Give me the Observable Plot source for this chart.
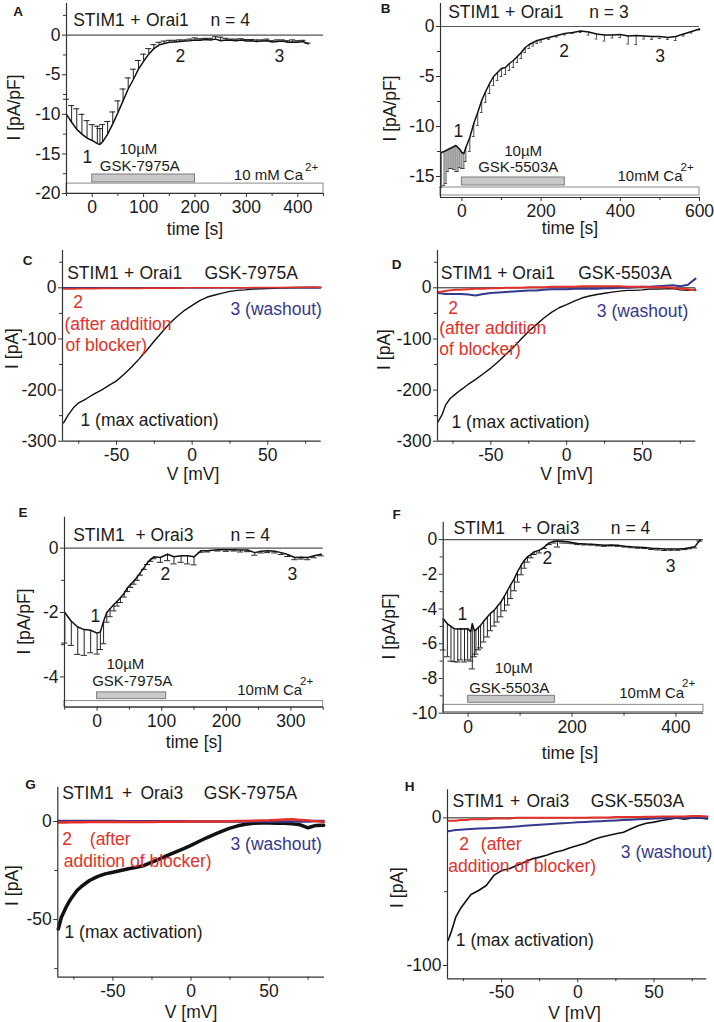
<!DOCTYPE html>
<html><head><meta charset="utf-8">
<script src="https://cdn.jsdelivr.net/npm/d3@7"></script>
<script src="https://cdn.jsdelivr.net/npm/@observablehq/plot@0.6"></script>
<style>
html,body{margin:0;padding:0;background:#fff;}
#fig{position:relative;width:714px;height:1022px;overflow:hidden;font-family:"Liberation Sans",Arial,sans-serif;}
#fig svg{position:absolute;}
</style></head><body><div id="fig"></div>
<script>
// ---------- Panel A: STIM1 + Orai1, GSK-7975A (time course, mean & SEM) ----------
const tA = [-50,-40,-30,-20,-10,0,10,15,20,30,40,50,60,70,80,90,100,110,120,130,140,150,160,170,180,190,200,210,220,230,240,250,260,270,280,290,300,310,320,330,340,350,360,370,380,390,400,410,420];
const mA = [-10.0,-11.0,-11.9,-12.5,-13.0,-13.3,-13.7,-13.8,-13.5,-12.5,-11.2,-9.8,-8.3,-6.8,-5.6,-4.3,-3.3,-2.4,-1.7,-1.25,-1.05,-0.9,-0.85,-0.8,-0.75,-0.7,-0.6,-0.65,-0.55,-0.6,-0.5,-0.7,-0.6,-0.65,-0.7,-0.6,-0.75,-0.7,-0.8,-0.75,-0.7,-0.85,-0.8,-0.75,-0.9,-0.85,-0.9,-0.8,-1.1];
const eA = [1.9,2.1,2.6,2.5,2.2,2.0,2.2,2.0,2.2,1.6,1.5,1.5,1.5,1.4,1.3,1.1,0.9,0.7,0.5,0.35,0.3,0.25,0.2,0.2,0.15,0.2,0.25,0.2,0.15,0.2,0.3,0.45,0.2,0.15,0.2,0.15,0.2,0.15,0.2,0.15,0.2,0.15,0.2,0.15,0.2,0.25,0.2,0.15,0.1];
const drugA = [0, 200], caA = [-50, 450];

// ---------- Panel B: STIM1 + Orai1, GSK-5503A ----------
const tB = [-52,-45,-40,-35,-30,-25,-20,-15,-10,-5,0,5,10,20,30,40,50,60,70,80,90,100,110,120,130,140,150,160,170,180,190,200,220,240,260,280,300,320,340,360,380,400,420,440,460,480,500,520,540,560,580,600];
const mB = [-12.6,-12.5,-12.4,-12.3,-12.2,-12.1,-12.0,-11.9,-12.1,-12.3,-12.6,-12.7,-12.1,-11.1,-9.7,-8.6,-7.4,-6.5,-5.7,-5.0,-4.6,-4.2,-4.1,-3.7,-3.4,-3.0,-2.6,-2.1,-1.8,-1.6,-1.4,-1.3,-1.1,-0.9,-0.7,-0.6,-0.45,-0.55,-0.75,-0.85,-0.85,-0.8,-0.95,-0.9,-0.95,-1.0,-1.0,-1.1,-1.0,-0.75,-0.5,-0.25];
const eB = [3.5,3.4,3.3,2.2,2.0,2.1,2.3,2.6,2.4,1.8,1.6,1.5,1.4,1.4,1.3,1.3,1.2,1.1,1.0,0.9,0.8,0.8,0.7,0.7,0.7,0.6,0.6,0.5,0.4,0.35,0.3,0.25,0.2,0.15,0.15,0.1,0.15,0.3,0.5,0.6,0.3,0.3,0.8,0.9,0.3,0.3,0.2,0.2,0.4,0.2,0.15,0.1];
const drugB = [0, 260], caB = [-54, 600];

// ---------- Panel C: I-V, STIM1 + Orai1, GSK-7975A ----------
const vC = [-85,-82,-78,-75,-70,-65,-60,-55,-50,-45,-40,-35,-30,-25,-20,-15,-10,-5,0,5,10,15,20,25,30,35,40,45,50,60,70,80,85];
const c1 = [-264,-249,-233,-225,-217,-208,-200,-191,-182,-169,-155,-139,-122,-104,-87,-70,-56,-44,-34.5,-25,-18,-14,-10.5,-7,-5,-4,-2.5,-2,-1.3,0,0.5,1,0.5];
const c2 = [-2,-2,-2,-1.5,-1.5,-1.5,-1,-1,-1,-1,-1,-1,-0.5,-0.5,-0.5,-0.5,-0.5,0,0,0,0,0,0,0,0,0,0.5,0.5,0.5,0.5,1,1,1];
const c3 = [0,0,0,0,0,0,0,0,0,0,0,0,0,0,0,0,0,0,0,0,0,0,0,0,0,0,0,0,0,0,0,0,0];

// ---------- Panel D: I-V, STIM1 + Orai1, GSK-5503A ----------
const vD = [-85,-82,-80,-77,-73,-70,-65,-60,-55,-50,-45,-40,-35,-30,-25,-20,-15,-10,-5,0,5,10,15,20,25,30,35,40,45,50,55,60,65,70,75,80,85];
const d1 = [-263,-247,-230,-217,-207,-200,-189,-179,-168,-157,-144,-130,-116,-100,-85,-72,-59,-48,-39,-33,-26,-20,-16,-13,-10.5,-8.5,-6.5,-5,-5,-4,-2.5,-2.5,-2,-1.3,-4,-5,-2.5];
const d2 = [-8,-7,-6,-5,-4,-4,-3,-2,-2,-1,-1,0,0,0,1,1,1,2,2,2,2,3,3,3,3,3,3,2,2,2,1,1,1,0,-2,-3,-5];
const d3 = [-10,-11,-12,-12,-12,-12,-13,-15,-12,-10,-9,-8,-7,-6,-5,-5,-4,-3,-3,-3,-2,-2,-2,-2,-1,-1,0,0,1,2,2,3,4,5,3,6,18];

// ---------- Panel E: STIM1 + Orai3, GSK-7975A ----------
const tE = [-50,-40,-30,-20,-10,0,5,10,15,20,26,31,36,42,47,52,57,62,67,73,78,83,88,98,109,119,130,140,150,161,171,187,200,212,222,233,244,254,264,275,285,295,306,316,326,336,347];
const mE = [-2.0,-2.27,-2.45,-2.53,-2.55,-2.64,-2.6,-2.27,-2.0,-1.88,-1.75,-1.65,-1.54,-1.4,-1.23,-1.12,-1.02,-0.9,-0.76,-0.6,-0.45,-0.35,-0.27,-0.29,-0.19,-0.27,-0.24,-0.24,-0.27,-0.08,-0.08,-0.05,-0.05,-0.05,-0.06,-0.06,-0.14,-0.1,-0.08,-0.1,-0.14,-0.2,-0.29,-0.28,-0.29,-0.24,-0.19];
const eE = [0.95,0.75,0.85,0.8,0.7,0.65,0.55,0.7,0.3,0.25,0.2,0.15,0.15,0.12,0.12,0.1,0.1,0.1,0.08,0.06,0.06,0.06,0.06,0.15,0.2,0.22,0.2,0.25,0.25,0.05,0.04,0.04,0.05,0.04,0.06,0.05,0.08,0.05,0.06,0.05,0.06,0.06,0.07,0.06,0.07,0.06,0.05];
const drugE = [0, 107], caE = [-50.5, 350];

// ---------- Panel F: STIM1 + Orai3, GSK-5503A ----------
const tF = [-48,-40,-33,-27,-20,-14,-7,-1,5,8,12,15,20,24,30,37,43,50,56,63,70,76,82,89,95,102,108,114,121,127,137,147,156,165,172,182,192,202,211,224,237,250,262,275,288,301,314,327,340,353,365,378,391,404,417,426,436,446];
const mF = [-4.56,-4.85,-5.0,-5.13,-5.15,-5.13,-5.15,-5.13,-5.3,-4.85,-5.25,-5.2,-5.05,-4.94,-4.7,-4.46,-4.25,-4.08,-3.85,-3.6,-3.25,-2.92,-2.6,-2.25,-1.85,-1.48,-1.2,-1.0,-0.85,-0.71,-0.62,-0.42,-0.19,-0.1,-0.08,-0.1,-0.13,-0.18,-0.23,-0.25,-0.27,-0.3,-0.33,-0.32,-0.33,-0.38,-0.42,-0.44,-0.46,-0.5,-0.52,-0.55,-0.54,-0.55,-0.52,-0.47,-0.42,-0.04];
const eF = [1.8,1.9,2.0,1.9,1.9,1.8,1.9,1.8,1.7,2.6,1.5,1.4,1.3,1.3,1.2,1.15,1.0,0.9,0.9,0.85,0.85,0.85,0.8,0.7,0.6,0.55,0.45,0.3,0.2,0.15,0.15,0.1,0.1,0.1,0.35,0.1,0.08,0.06,0.06,0.06,0.05,0.06,0.06,0.05,0.06,0.05,0.05,0.06,0.06,0.07,0.08,0.08,0.08,0.07,0.06,0.06,0.06,0.05];
const drugF = [0, 167], caF = [-48, 453];

// ---------- Panel G: I-V, STIM1 + Orai3, GSK-7975A ----------
const vG = [-85,-83,-80,-77,-73,-70,-65,-60,-55,-50,-45,-40,-35,-30,-25,-20,-15,-10,-5,0,5,10,15,20,25,30,35,40,45,50,55,60,65,70,75,80,85];
const g1 = [-54.8,-48.8,-43.7,-39.5,-35.2,-33,-30.1,-28.1,-26.7,-25.9,-25,-24.1,-23.3,-22.4,-20.7,-19,-17.3,-15.6,-13.9,-12.2,-10.2,-8.3,-6.6,-4.9,-3.4,-2.2,-1.4,-0.9,-0.7,-0.7,-0.9,-0.9,-1.2,-1.7,-3.2,-2,-1.9];
const g2 = [-0.5,-0.5,-0.5,-0.4,-0.4,-0.4,-0.3,-0.3,-0.3,-0.3,-0.2,-0.2,-0.2,-0.2,-0.2,-0.1,-0.1,-0.1,-0.1,0,0,0,0,0,0.1,0.2,0.3,0.4,0.5,0.6,0.8,1.0,1.1,0.8,0.5,0.2,-0.3];
const g3 = [0.2,0.2,0.2,0.2,0.2,0.2,0.2,0.2,0.2,0.2,0.1,0.1,0.1,0.1,0.1,0.1,0.1,0.1,0.1,0,0,0,0,0,0,0,0,0,0,0,0,0,0,0,0,0.2,0.3];

// ---------- Panel H: I-V, STIM1 + Orai3, GSK-5503A ----------
const vH = [-85,-83,-80,-77,-73,-70,-65,-60,-55,-50,-45,-40,-35,-30,-25,-20,-15,-10,-5,0,5,10,15,20,25,30,35,40,45,50,55,60,65,70,75,80,85];
const h1 = [-83,-77.4,-67.3,-61.6,-56,-51.9,-49.2,-45.8,-39,-35.7,-34.5,-32.3,-30,-27.8,-26.6,-25.1,-23.3,-22.1,-20.3,-18.7,-17.2,-14.9,-13.1,-12,-10.8,-9.7,-7.4,-5.2,-3.6,-2.9,-1.8,-0.9,0,-0.9,0,0,-0.7];
const h2 = [-2,-2,-2,-1.5,-1.5,-1,-1,-1,-0.5,-0.5,-0.5,0,0,0,0,0,0,0,0,0,0,0.3,0.3,0.3,0.5,0.5,0.5,0.5,0.8,0.8,1,1,1,1,1.2,1.2,1];
const h3 = [-9,-8.7,-8.3,-8,-7.7,-7.5,-7.2,-7,-6.8,-6.5,-6.2,-5.8,-5.4,-5,-4.7,-4.4,-4,-3.7,-3.4,-3,-2.8,-2.5,-2.3,-2,-1.8,-1.5,-1.2,-1,-0.7,-0.5,-0.3,-0.2,0,0,0,0,0];

// ---------- tick values ----------
const ticksA = {xt:[0,100,200,300,400], xm:[-50,50,150,250,350,450], yt:[0,-5,-10,-15,-20], ym:[2.5,-2.5,-7.5,-12.5,-17.5]};
const ticksB = {xt:[0,200,400,600], xm:[100,300,500], yt:[0,-5,-10,-15], ym:[-2.5,-7.5,-12.5]};
const ticksCD = {xt:[-50,0,50], xm:[-75,-25,25,75], yt:[0,-100,-200,-300], ym:[50,-50,-150,-250]};
const ticksE = {xt:[0,100,200,300], xm:[-50,50,150,250,350], yt:[0,-2,-4], ym:[-1,-3]};
const ticksF = {xt:[0,200,400], xm:[100,300], yt:[0,-2,-4,-6,-8,-10], ym:[-1,-3,-5,-7,-9]};
const ticksG = {xt:[-50,0,50], xm:[-75,-25,25,75], yt:[0,-50], ym:[-25,-75]};
const ticksH = {xt:[-50,0,50], xm:[-75,-25,25,75], yt:[0,-100], ym:[-50]};

const RED = "#e2312a", BLUE = "#36388c", INK = "#1b1b1b";
const fig = document.getElementById("fig");
const FS = 17.5;

function panel(c) {
  const T = (px, py, s, o = {}) => Plot.text([s], {
    text: d => d, frameAnchor: "top-left",
    dx: px - c.left - c.ml, dy: py - c.top - c.mt,
    textAnchor: o.anchor || "start", lineAnchor: "middle",
    fontSize: o.size || FS, fill: o.fill || INK,
    fontWeight: o.weight || "normal", rotate: o.rotate || 0
  });
  const k = c.ticks;
  const marks = [
    ...c.marks,
    Plot.ruleX([c.xd[0]], {stroke: "#333", strokeWidth: 1.2}),
    Plot.ruleY([c.yd[0]], {stroke: "#333", strokeWidth: 1.2}),
    Plot.axisX(k.xt, {anchor: "bottom", tickSize: 4, tickPadding: 3, fontSize: FS, tickFormat: d => String(d), label: null, stroke: "#333", fill: INK}),
    Plot.axisX(k.xm, {anchor: "bottom", tickSize: 3, tickFormat: () => "", label: null, stroke: "#333"}),
    Plot.axisY(k.yt, {anchor: "left", tickSize: 4, tickPadding: 2, fontSize: FS, tickFormat: d => String(d), label: null, stroke: "#333", fill: INK}),
    Plot.axisY(k.ym, {anchor: "left", tickSize: 3, tickFormat: () => "", label: null, stroke: "#333"}),
    ...c.texts.map(a => T(...a))
  ];
  const svg = Plot.plot({
    width: c.width, height: c.height,
    marginLeft: c.ml, marginRight: c.mr, marginTop: c.mt, marginBottom: c.mb,
    x: {domain: c.xd}, y: {domain: c.yd},
    style: {fontFamily: '"Liberation Sans", Arial, sans-serif', fontSize: FS + "px", background: "transparent", overflow: "visible", maxWidth: "none"},
    marks
  });
  svg.style.left = c.left + "px";
  svg.style.top = c.top + "px";
  fig.appendChild(svg);
}

function timeMarks(t, m, e, dir, cap, drug, ca, drugY, caY, barW = 1) {
  const data = t.map((ti, i) => ({t: ti, m: m[i], e: e[i]}));
  return [
    Plot.ruleY([0], {stroke: "#555", strokeWidth: 1.2}),
    Plot.rect([drug], {x1: d => d[0], x2: d => d[1], y1: drugY[0], y2: drugY[1], fill: "#c8c8c8", stroke: "#7d7d7d"}),
    Plot.rect([ca], {x1: d => d[0], x2: d => d[1], y1: caY[0], y2: caY[1], fill: "#ffffff", stroke: "#8a8a8a"}),
    Plot.ruleX(data, {x: "t", y1: "m", y2: d => d.m + dir * d.e, stroke: "#222", strokeWidth: barW}),
    Plot.ruleY(data, {y: d => d.m + dir * d.e, x1: d => d.t - cap, x2: d => d.t + cap, stroke: "#222", strokeWidth: barW}),
    Plot.line(data, {x: "t", y: "m", stroke: "#111", strokeWidth: 1.5})
  ];
}

function ivMarks(v, a, b, c, wBlack, wCol) {
  const data = v.map((vi, i) => ({v: vi, i1: a[i], i2: b[i], i3: c[i]}));
  return [
    Plot.ruleY([0], {stroke: "#222", strokeWidth: 1}),
    Plot.line(data, {x: "v", y: "i1", stroke: "#111", strokeWidth: wBlack}),
    Plot.line(data, {x: "v", y: "i3", stroke: BLUE, strokeWidth: wCol}),
    Plot.line(data, {x: "v", y: "i2", stroke: RED, strokeWidth: wCol})
  ];
}

const B13 = {weight: "bold", size: 13.5, anchor: "middle"};
const S15 = {size: 15}, SUP = {size: 11.5};
const MID = {anchor: "middle"}, ROT = {anchor: "middle", rotate: -90};
const R = {fill: RED}, Bl = {fill: BLUE}, PLUS = {anchor: "middle"};

// A
panel({left: 0, top: 0, width: 357, height: 240, ml: 66, mr: 34, mt: 3, mb: 47,
  xd: [-50, 450], yd: [-20, 4], ticks: ticksA,
  marks: timeMarks(tA, mA, eA, +1, 5.8, drugA, caA, [-17.6, -18.6], [-18.75, -20]),
  texts: [[17.5, 11.5, "A", B13], [72.7, 19.5, "STIM1"], [134.9, 19.5, "+", PLUS], [145.5, 19.5, "Orai1"], [210, 19.5, "n = 4"],
    [82, 157, "1"], [175, 56, "2"], [274, 56, "3"],
    [119, 148.5, "10µM", S15], [99.3, 166, "GSK-7975A", S15],
    [233.3, 175, "10 mM Ca", S15], [304.5, 167, "2+", SUP],
    [194.5, 229, "time [s]", MID], [14, 107, "I [pA/pF]", ROT]]
});
// B
panel({left: 357, top: 0, width: 357, height: 240, ml: 83, mr: 15, mt: 3, mb: 43,
  xd: [-54, 600], yd: [-17.1, 2.3], ticks: ticksB,
  marks: timeMarks(tB, mB, eB, -1, 3.5, drugB, caB, [-15.1, -15.9], [-16.1, -16.9], 0.8),
  texts: [[385, 8, "B", B13], [447.7, 11.7, "STIM1"], [509.7, 11.7, "+", PLUS], [520.2, 11.7, "Orai1"], [588.7, 11.7, "n = 3"],
    [453, 131, "1"], [558.7, 51, "2"], [654.7, 56, "3"],
    [503.7, 151, "10µM", S15], [477.7, 167, "GSK-5503A", S15],
    [617, 176, "10mM Ca", S15], [680, 167, "2+", SUP],
    [569.5, 228, "time [s]", MID], [390, 108, "I [pA/pF]", ROT]]
});
// C
panel({left: 0, top: 240, width: 357, height: 250, ml: 62, mr: 36.3, mt: 10, mb: 49.3,
  xd: [-85.7, 85.3], yd: [-300, 73], ticks: ticksCD,
  marks: ivMarks(vC, c1, c2, c3, 1.4, 1.6),
  texts: [[27, 260, "C", B13], [66.7, 272.5, "STIM1"], [128.6, 272.5, "+", PLUS], [138.9, 272.5, "Orai1"], [204, 272.5, "GSK-7975A"],
    [72.7, 302, "2", R], [64, 324, "(after addition", R], [65, 345, "of blocker)", R],
    [230, 308.5, "3 (washout)", Bl], [80, 420, "1 (max activation)"],
    [192.5, 474, "V [mV]", MID], [12, 348, "I [pA]", ROT]]
});
// D
panel({left: 357, top: 240, width: 357, height: 250, ml: 80, mr: 18.7, mt: 10, mb: 49.3,
  xd: [-85.2, 85.2], yd: [-300, 73], ticks: ticksCD,
  marks: ivMarks(vD, d1, d2, d3, 1.4, 2),
  texts: [[396, 264, "D", B13], [440.3, 272.5, "STIM1 + Orai1"], [577.7, 272.5, "GSK-5503A"],
    [447.7, 308, "2", R], [438.7, 327.5, "(after addition", R], [438.7, 349, "of blocker)", R],
    [596.3, 310.5, "3 (washout)", Bl], [451, 421.5, "1 (max activation)"],
    [566, 474, "V [mV]", MID], [384, 349, "I [pA]", ROT]]
});
// E
panel({left: 0, top: 500, width: 357, height: 250, ml: 64, mr: 34.3, mt: 16.7, mb: 43.3,
  xd: [-50.5, 350], yd: [-4.94, 0.96], ticks: ticksE,
  marks: timeMarks(tE, mE, eE, -1, 4.7, drugE, caE, [-4.48, -4.69], [-4.75, -4.94]),
  texts: [[22.5, 512.5, "E", B13], [72.7, 535, "STIM1"], [135, 535, "+ Orai3"], [230, 535, "n = 4"],
    [90, 616, "1"], [160, 574, "2"], [287, 574, "3"],
    [106, 664, "10µM", S15], [91.7, 681, "GSK-7975A", S15],
    [236.7, 690, "10mM Ca", S15], [299.5, 680.5, "2+", SUP],
    [193.5, 742, "time [s]", MID], [24, 621, "I [pA/pF]", ROT]]
});
// F
panel({left: 357, top: 500, width: 357, height: 250, ml: 85.7, mr: 11, mt: 21.7, mb: 37.3,
  xd: [-48, 453], yd: [-10, 1], ticks: ticksF,
  marks: timeMarks(tF, mF, eF, -1, 5.8, drugF, caF, [-9.0, -9.4], [-9.52, -9.94]),
  texts: [[396, 514, "F", B13], [453, 528, "STIM1"], [521, 528, "+ Orai3"], [610.3, 528, "n = 4"],
    [457, 613.5, "1"], [542, 558, "2"], [665.3, 566, "3"],
    [494.3, 667.5, "10µM", S15], [468.7, 687.5, "GSK-5503A", S15],
    [618.7, 692.5, "10mM Ca", S15], [681.5, 683, "2+", SUP],
    [569.5, 753, "time [s]", MID], [389, 626, "I [pA/pF]", ROT]]
});
// G
panel({left: 0, top: 750, width: 357, height: 272, ml: 57.3, mr: 33, mt: 36.7, mb: 45.3,
  xd: [-85.3, 85.5], yd: [-79.4, 17.5], ticks: ticksG,
  marks: ivMarks(vG, g1, g2, g3, 3.5, 2.5),
  texts: [[30, 784, "G", B13], [61.7, 792.5, "STIM1"], [126.6, 792.5, "+", PLUS], [139.9, 792.5, "Orai3"], [203.3, 792.5, "GSK-7975A"],
    [61.7, 839, "2", R], [89.3, 839, "(after", R], [63.3, 860.5, "addition of blocker)", R],
    [230, 843.5, "3 (washout)", Bl], [64, 931.5, "1 (max activation)"],
    [190.5, 1012, "V [mV]", MID], [12, 885, "I [pA]", ROT]]
});
// H
panel({left: 357, top: 750, width: 357, height: 272, ml: 90, mr: 7.7, mt: 39.3, mb: 43.7,
  xd: [-85.4, 84.6], yd: [-109, 19], ticks: ticksH,
  marks: ivMarks(vH, h1, h2, h3, 1.6, 2),
  texts: [[409, 786, "H", B13], [452, 800.5, "STIM1"], [514.7, 800.5, "+", PLUS], [525.9, 800.5, "Orai3"], [590.3, 800.5, "GSK-5503A"],
    [458.7, 843.5, "2", R], [480.3, 843.5, "(after", R], [447.7, 865.5, "addition of blocker)", R],
    [620.3, 851.5, "3 (washout)", Bl], [455.3, 940, "1 (max activation)"],
    [574, 1013, "V [mV]", MID], [397, 887, "I [pA]", ROT]]
});
</script></body></html>
